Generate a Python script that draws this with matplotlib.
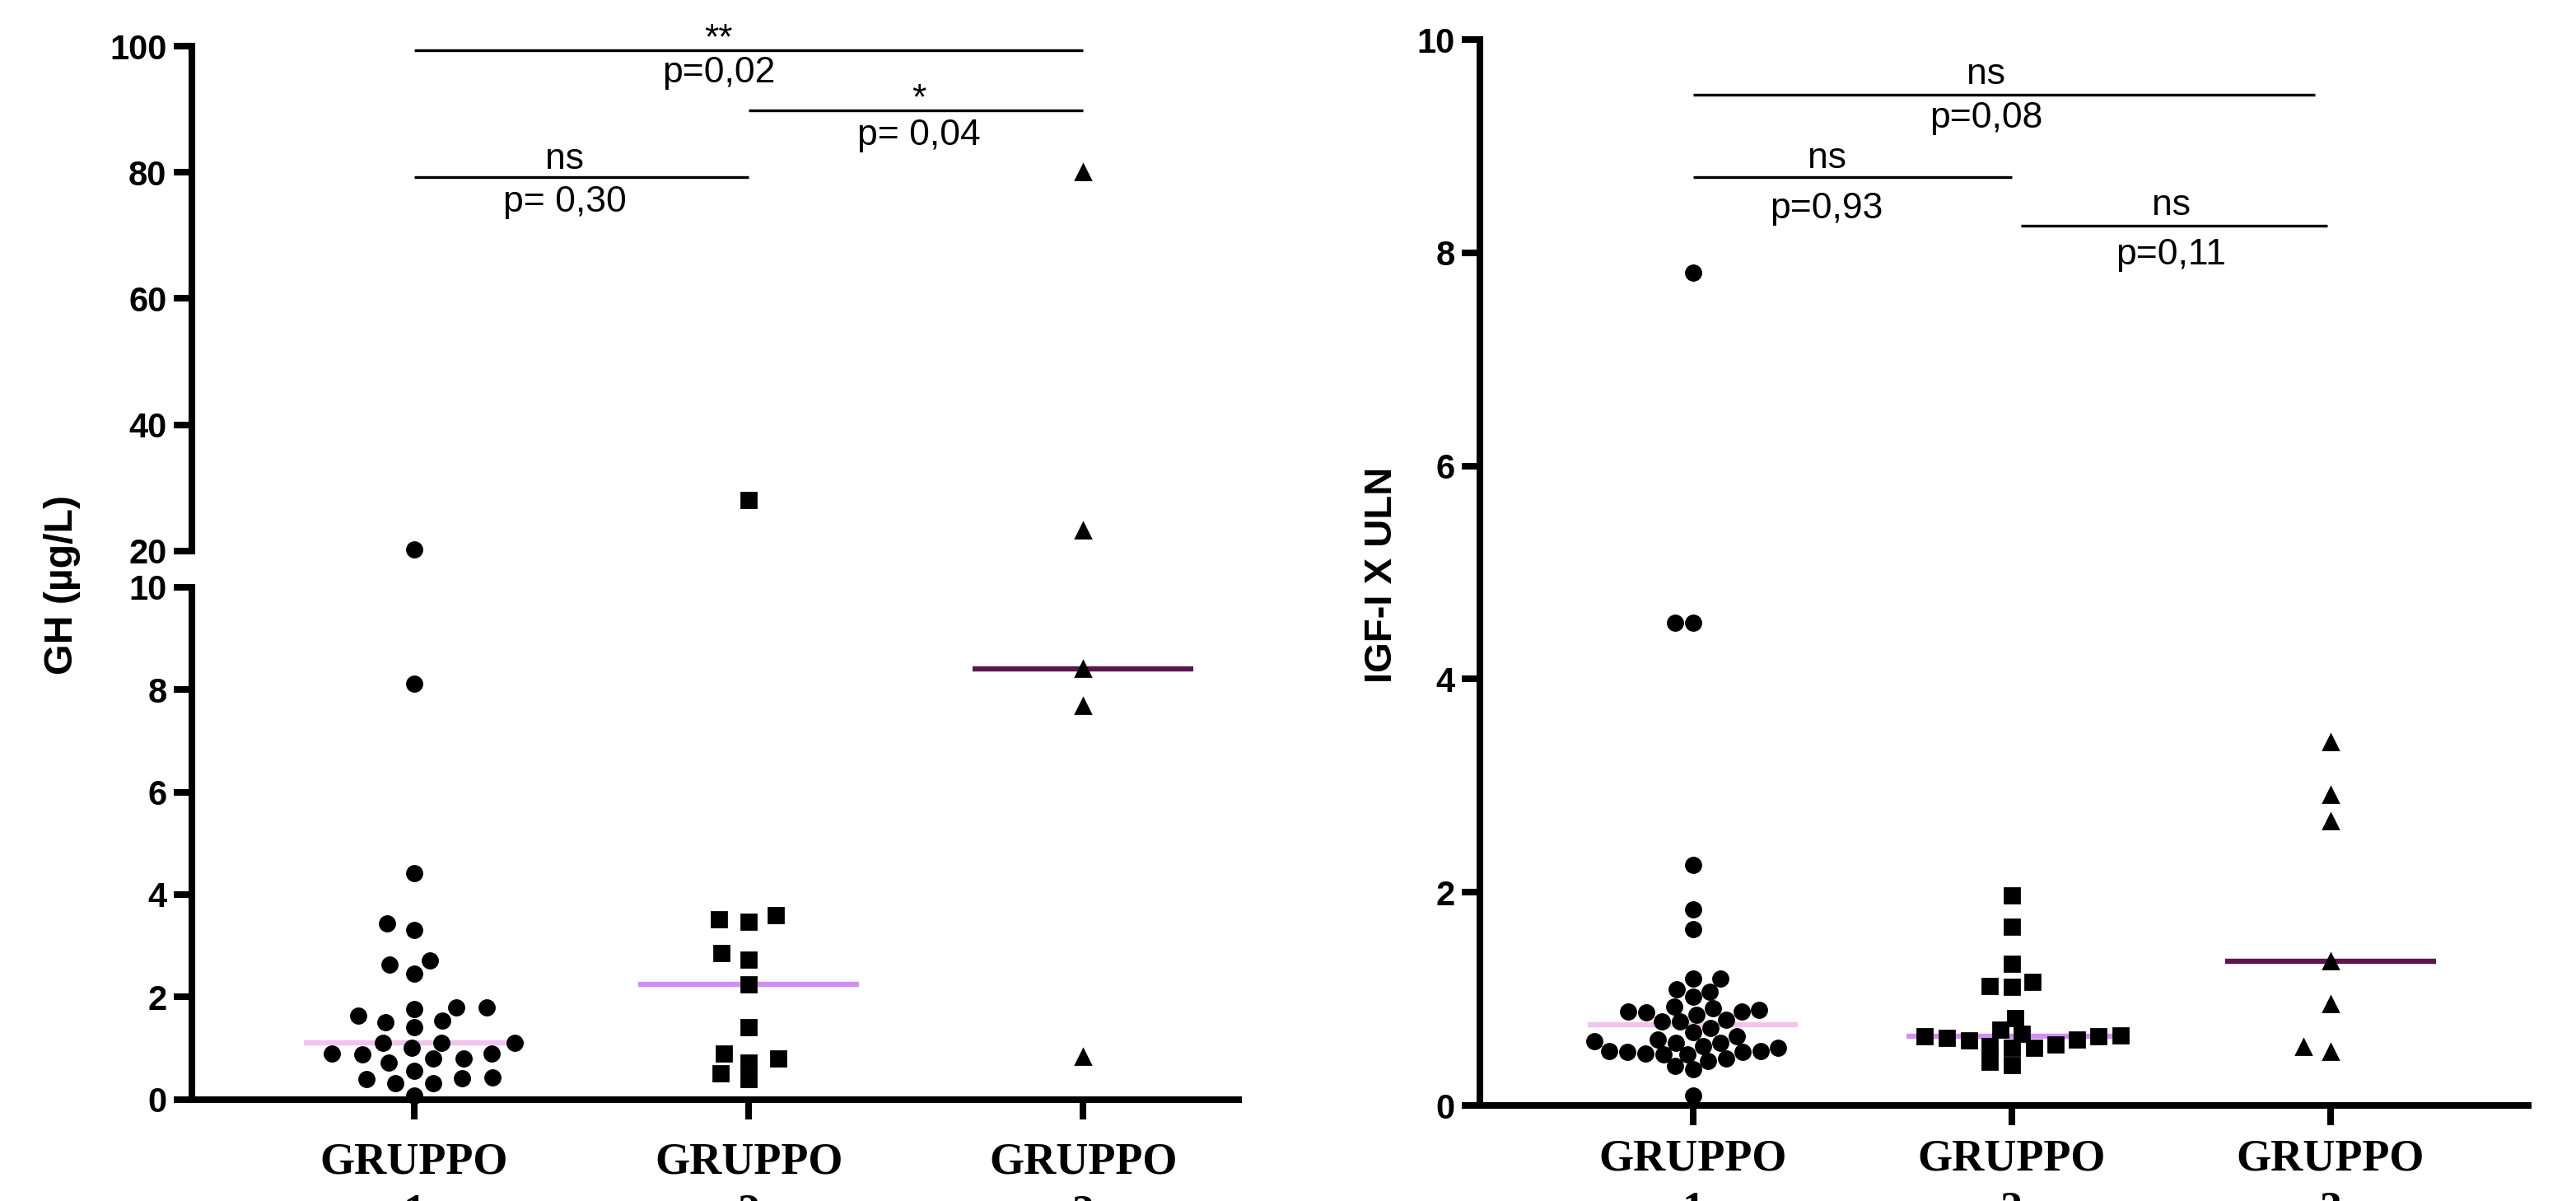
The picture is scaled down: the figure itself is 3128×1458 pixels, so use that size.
import numpy as np
import matplotlib
matplotlib.use("Agg")
import matplotlib.pyplot as plt
from matplotlib.ticker import FixedLocator

# Data
groups = ["GRUPPO\n1", "GRUPPO\n2", "GRUPPO\n3"]

# GH (ug/L)
gh_1 = [20.3, 8.11, 4.41, 3.30, 3.43, 2.63, 2.45, 2.71, 1.64, 1.80, 1.76, 1.80, 1.53, 1.40, 1.50,
        1.01, 0.90, 0.87, 1.10, 1.10, 1.10, 0.90, 0.55, 0.71, 0.79, 0.79, 0.41, 0.07, 0.31, 0.31,
        0.39, 0.43]
gh_2 = [28.1, 3.60, 3.46, 3.51, 2.72, 2.85, 2.25, 1.41, 0.90, 0.72, 0.79, 0.50, 0.39]
gh_3 = [80.0, 23.2, 8.40, 7.68, 0.83]

# IGF-I x ULN
igf_1 = [7.81, 4.53, 4.53, 2.26, 1.84, 1.65, 1.19, 1.19, 1.09, 1.07, 1.02, 0.93, 0.91, 0.90,
         0.88, 0.88, 0.87, 0.85, 0.80, 0.79, 0.79, 0.73, 0.69, 0.65, 0.62, 0.60, 0.59, 0.59,
         0.56, 0.54, 0.51, 0.51, 0.50, 0.50, 0.49, 0.48, 0.48, 0.44, 0.42, 0.37, 0.34, 0.09]
igf_2 = [1.97, 1.68, 1.33, 1.16, 1.12, 1.11, 0.82, 0.71, 0.67, 0.66, 0.65, 0.65, 0.63, 0.62,
         0.61, 0.57, 0.56, 0.54, 0.54, 0.41, 0.38]
igf_3 = [3.41, 2.91, 2.67, 1.35, 0.95, 0.50, 0.55]

# comparisons: (group a, group b, line y, star text, p text)
gh_tests = [(0, 2, 99.4, "**", "p=0,02"),
            (1, 2, 89.8, "*", "p= 0,04"),
            (0, 1, 79.2, "ns", "p= 0,30")]
igf_tests = [(0, 1.95, 9.48, "ns", "p=0,08"),
             (0, 1.0, 8.71, "ns", "p=0,93"),
             (1.03, 1.99, 8.25, "ns", "p=0,11")]

markers = ["o", "s", "^"]
median_colors = ["#f1c3ee", "#d48ef0", "#5b1650"]


def pick_font(names):
    from matplotlib import font_manager
    for n in names:
        try:
            font_manager.findfont(n, fallback_to_default=False)
            return n
        except Exception:
            pass
    return "DejaVu Sans"


SANS = pick_font(["Liberation Sans", "Arial", "DejaVu Sans"])
SERIF = pick_font(["Liberation Serif", "Times New Roman", "DejaVu Serif"])


def swarm(values, sx, sy):
    ''' simple beeswarm: x offsets (px) so no two markers overlap '''
    y = np.asarray(values, dtype=float) / sy
    out = np.zeros(len(y))
    px, py = [], []
    for i in np.argsort(y):
        cands = [0.0]
        for a, b in zip(px, py):
            dy = y[i] - b
            if abs(dy) < 1:
                dx = np.sqrt(1 - dy * dy)
                cands += [a + dx, a - dx]
        cands = sorted(cands, key=lambda c: (round(abs(c), 6), c))
        for c in cands:
            if all((c - a) ** 2 + (y[i] - b) ** 2 >= 0.999 for a, b in zip(px, py)):
                break
        out[i] = c
        px.append(c)
        py.append(y[i])
    return out * sx


def style_axis(ax):
    for s in ["top", "right"]:
        ax.spines[s].set_visible(False)
    for s in ["left", "bottom"]:
        ax.spines[s].set_linewidth(2.9)
    ax.tick_params(axis="both", direction="out", length=8, width=2.9, pad=3)


def draw_points(ax, data, spread, msize=6.5):
    fig.canvas.draw()
    bb = ax.get_window_extent()
    x0, x1 = ax.get_xlim()
    y0, y1 = ax.get_ylim()
    ppx = bb.width / (x1 - x0)
    ppy = bb.height / (y1 - y0)
    for i, vals in enumerate(data):
        v = np.array([d for d in vals if y0 <= d <= y1])
        if len(v) == 0:
            continue
        off = swarm(v * ppy, spread[i], msize * 200 / 72 * 1.05) / ppx
        ax.plot(i + off, v, linestyle="none", marker=markers[i], markersize=msize,
                color="black", clip_on=False, zorder=4)


def draw_tests(ax, tests, text_x, dy_star, dy_p):
    for (a, b, y, star, p), tx, ds, dp in zip(tests, text_x, dy_star, dy_p):
        ax.plot([a, b], [y, y], color="black", lw=1.2, clip_on=False, solid_capstyle="butt")
        ax.text(tx, y + ds, star, ha="center", va="center", fontsize=16, family=SANS)
        ax.text(tx, y + dp, p, ha="center", va="center", fontsize=16, family=SANS)


W, H = 3128, 1458
fig = plt.figure(figsize=(W / 200, H / 200), dpi=200)

# ---- left panel: GH with broken axis
ax_top = fig.add_axes([233 / W, 1 - 668.9 / H, (1504 - 233) / W, (668.9 - 56) / H])
ax_low = fig.add_axes([233 / W, 1 - 1334.5 / H, (1504 - 233) / W, (1334.5 - 712.9) / H])
for ax in (ax_top, ax_low):
    style_axis(ax)
    ax.set_xlim(-0.665, 2.465)
ax_top.set_ylim(20, 100)
ax_low.set_ylim(0, 10)
ax_top.spines["bottom"].set_visible(False)
ax_top.tick_params(axis="x", bottom=False, labelbottom=False)
ax_top.set_yticks([20, 40, 60, 80, 100], ["20", "40", "60", "80", "100"],
                  fontweight="bold", family=SANS, fontsize=15)
ax_low.set_yticks([0, 2, 4, 6, 8, 10], ["0", "2", "4", "6", "8", "10"],
                  fontweight="bold", family=SANS, fontsize=15)
# caps at the axis break
ax_top.yaxis.set_minor_locator(FixedLocator([20]))
ax_low.yaxis.set_minor_locator(FixedLocator([10]))
for ax in (ax_top, ax_low):
    ax.tick_params(axis="y", which="minor", direction="inout", length=16, width=2.9)
ax_low.set_xticks([0, 1, 2], groups, fontweight="bold", family=SERIF, fontsize=19.5,
                  linespacing=1.35)
ax_low.tick_params(axis="x", length=8.6, pad=10)

gh = [gh_1, gh_2, gh_3]
for i, vals in enumerate(gh):
    med = np.median(vals)
    ax = ax_low if med <= 10 else ax_top
    ax.plot([i - 0.33, i + 0.33], [med, med], color=median_colors[i], lw=2.3,
            solid_capstyle="butt", zorder=3)
draw_points(ax_top, gh, [37, 37, 37])
draw_points(ax_low, gh, [37, 37, 37])
draw_tests(ax_top, gh_tests, [0.91, 1.51, 0.45], [1.6, 1.7, 2.9], [-3.6, -4.0, -3.9])

fig.text(76 / W, 1 - 710 / H, "GH (µg/L)", rotation=90, ha="center", va="center",
         fontsize=17.4, fontweight="bold", family=SANS)

# ---- right panel: IGF-I x ULN
ax_r = fig.add_axes([1797 / W, 1 - 1342 / H, (3070 - 1797) / W, (1342 - 48) / H])
style_axis(ax_r)
ax_r.set_xlim(-0.668, 2.62)
ax_r.set_ylim(0, 10)
ax_r.set_yticks([0, 2, 4, 6, 8, 10], ["0", "2", "4", "6", "8", "10"],
                fontweight="bold", family=SANS, fontsize=15)
ax_r.set_xticks([0, 1, 2], groups, fontweight="bold", family=SERIF, fontsize=19.5,
                linespacing=1.35)
ax_r.tick_params(axis="x", length=8.6, pad=6)

igf = [igf_1, igf_2, igf_3]
for i, vals in enumerate(igf):
    med = np.median(vals)
    ax_r.plot([i - 0.33, i + 0.33], [med, med], color=median_colors[i], lw=2.3,
              solid_capstyle="butt", zorder=3)
draw_points(ax_r, igf, [22, 27, 35])
draw_tests(ax_r, igf_tests, [0.92, 0.42, 1.50], [0.19, 0.17, 0.19], [-0.22, -0.30, -0.27])

fig.text(1678 / W, 1 - 698 / H, "IGF-I X ULN", rotation=90, ha="center", va="center",
         fontsize=17, fontweight="bold", family=SANS)

fig.savefig("out.png", dpi=200, facecolor="white")
